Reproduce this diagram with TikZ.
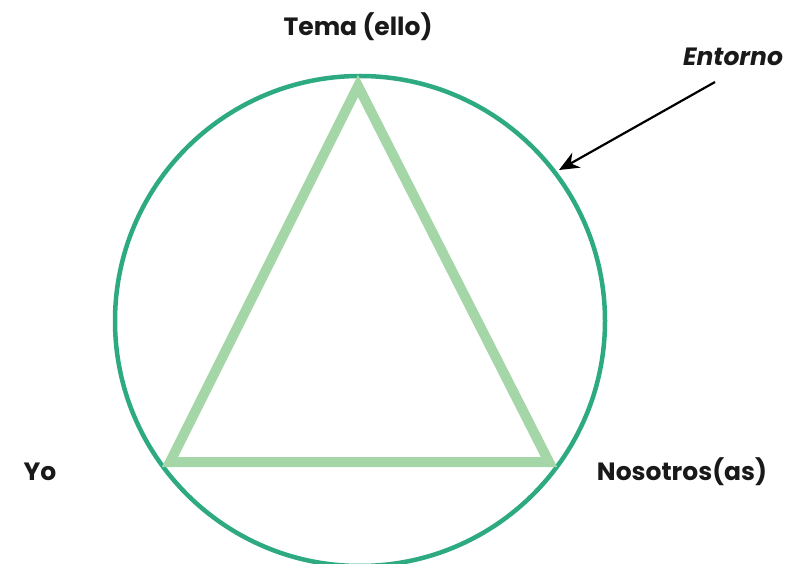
\documentclass[tikz,border=0pt]{standalone}
\usepackage{fontspec}
\setmainfont{Poppins}
\usepackage{tikz}
\usetikzlibrary{calc,arrows.meta}

\definecolor{ringgreen}{HTML}{2EAA82}
\definecolor{trigreen}{HTML}{A5D6A7}

\tikzset{
  lbl/.style={font=\bfseries\fontsize{25}{28}\selectfont, text=black!90},
}

\begin{document}
\begin{tikzpicture}[x=1pt,y=-1pt,>={Stealth[length=20pt,width=17pt]}]
			\useasboundingbox (0,0) rectangle (804,564);
			\def\r{245}
			
			\coordinate (O) at (360,321);
			\draw[ringgreen,line width=4.5pt] (O) circle (\r);
			
			\coordinate (T) at ($(O)+(-2,-\r+10)$);
			\coordinate (L) at ($(O)+(-190,141)$);
			\coordinate (R) at ($(O)+(189,141)$);
			
			\draw[trigreen,line width=10pt,line join=miter] (T)--(L)--(R)--cycle;
			
			\node[lbl] (tema) at (358,27) {Tema (ello)};
			\node[lbl] (yo) at (40,472) {Yo};
			\node[lbl] (nos) at (682,472) {Nosotros(as)};
			\node[lbl,font=\bfseries\itshape\fontsize{25}{28}\selectfont] (ent) at (733,57) {Entorno};
			
			\coordinate (P) at (559,170);
			\draw[->,line width=2.2pt] (715,82)--(P);
		\end{tikzpicture}
\end{document}
